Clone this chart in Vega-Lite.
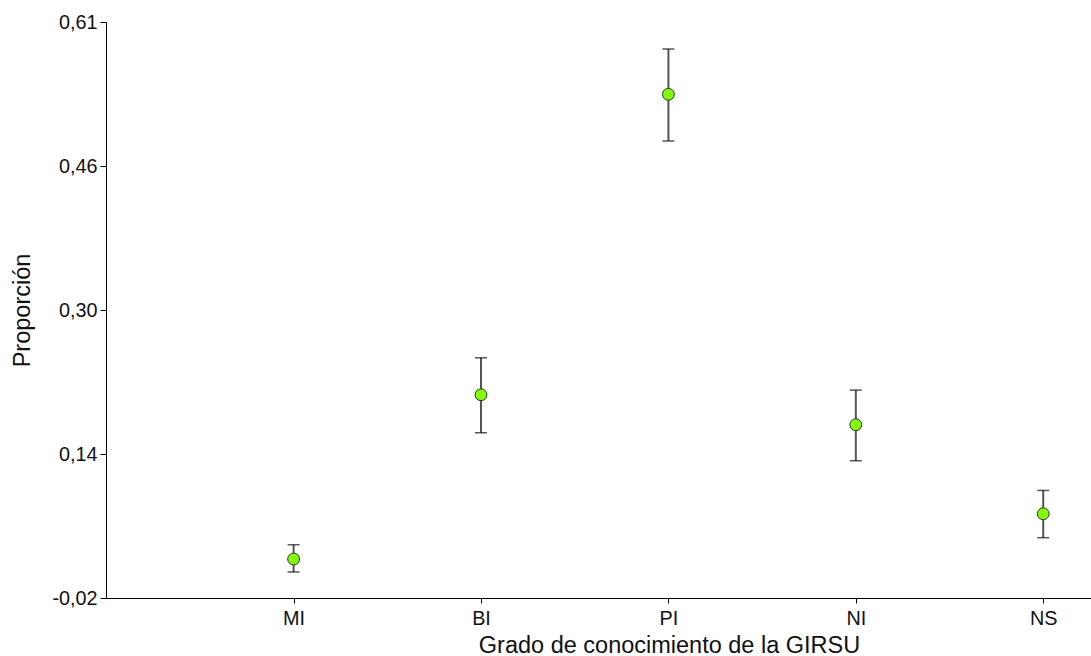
{
  "$schema": "https://vega.github.io/schema/vega-lite/v6.json",
  "width": 985,
  "height": 576,
  "autosize": {"type": "none"},
  "padding": {"left": 106, "top": 22, "right": 0, "bottom": 58},
  "background": "white",
  "config": {
    "view": {"stroke": null},
    "font": "Liberation Sans",
    "axis": {
      "domainColor": "#000000",
      "domainWidth": 1,
      "tickColor": "#000000",
      "tickWidth": 1,
      "grid": false,
      "labelFont": "Liberation Sans",
      "labelFontSize": 19.8,
      "labelColor": "#111111",
      "titleFont": "Liberation Sans",
      "titleFontSize": 23.5,
      "titleFontWeight": "normal",
      "titleColor": "#111111"
    }
  },
  "data": {
    "values": [
      {"grado": "MI", "prop": 0.0233, "lo": 0.0089, "hi": 0.0392},
      {"grado": "BI", "prop": 0.2058, "lo": 0.1636, "hi": 0.2469},
      {"grado": "PI", "prop": 0.5397, "lo": 0.4878, "hi": 0.5900},
      {"grado": "NI", "prop": 0.1725, "lo": 0.1325, "hi": 0.2110},
      {"grado": "NS", "prop": 0.0736, "lo": 0.0470, "hi": 0.0995}
    ]
  },
  "encoding": {
    "x": {
      "field": "grado",
      "type": "nominal",
      "sort": ["MI", "BI", "PI", "NI", "NS"],
      "scale": {"type": "point", "padding": 0.628, "align": 0.797},
      "axis": {
        "title": "Grado de conocimiento de la GIRSU",
        "labelAngle": 0,
        "tickSize": 5,
        "labelPadding": 5,
        "titleX": 563,
        "titleY": 54,
        "titleBaseline": "alphabetic"
      }
    }
  },
  "layer": [
    {
      "mark": {"type": "rule", "color": "#555555", "strokeWidth": 2},
      "encoding": {
        "y": {
          "field": "lo",
          "type": "quantitative",
          "scale": {"domain": [-0.02, 0.62], "nice": false, "zero": false},
          "axis": {
            "title": "Proporción",
            "values": [-0.02, 0.14, 0.30, 0.46, 0.62],
            "labelExpr": "datum.value < 0 ? '-0,02' : datum.value < 0.2 ? '0,14' : datum.value < 0.4 ? '0,30' : datum.value < 0.5 ? '0,46' : '0,61'",
            "tickSize": 6,
            "labelPadding": 3,
            "titlePadding": 17
          }
        },
        "y2": {"field": "hi"}
      }
    },
    {
      "mark": {"type": "tick", "color": "#111111", "orient": "horizontal", "size": 12, "thickness": 1.5},
      "encoding": {"y": {"field": "lo", "type": "quantitative"}}
    },
    {
      "mark": {"type": "tick", "color": "#111111", "orient": "horizontal", "size": 12, "thickness": 1.5},
      "encoding": {"y": {"field": "hi", "type": "quantitative"}}
    },
    {
      "mark": {"type": "point", "shape": "circle", "filled": true, "fill": "#80FF00", "stroke": "#333333", "strokeWidth": 1, "size": 140, "opacity": 1},
      "encoding": {"y": {"field": "prop", "type": "quantitative"}}
    }
  ]
}
